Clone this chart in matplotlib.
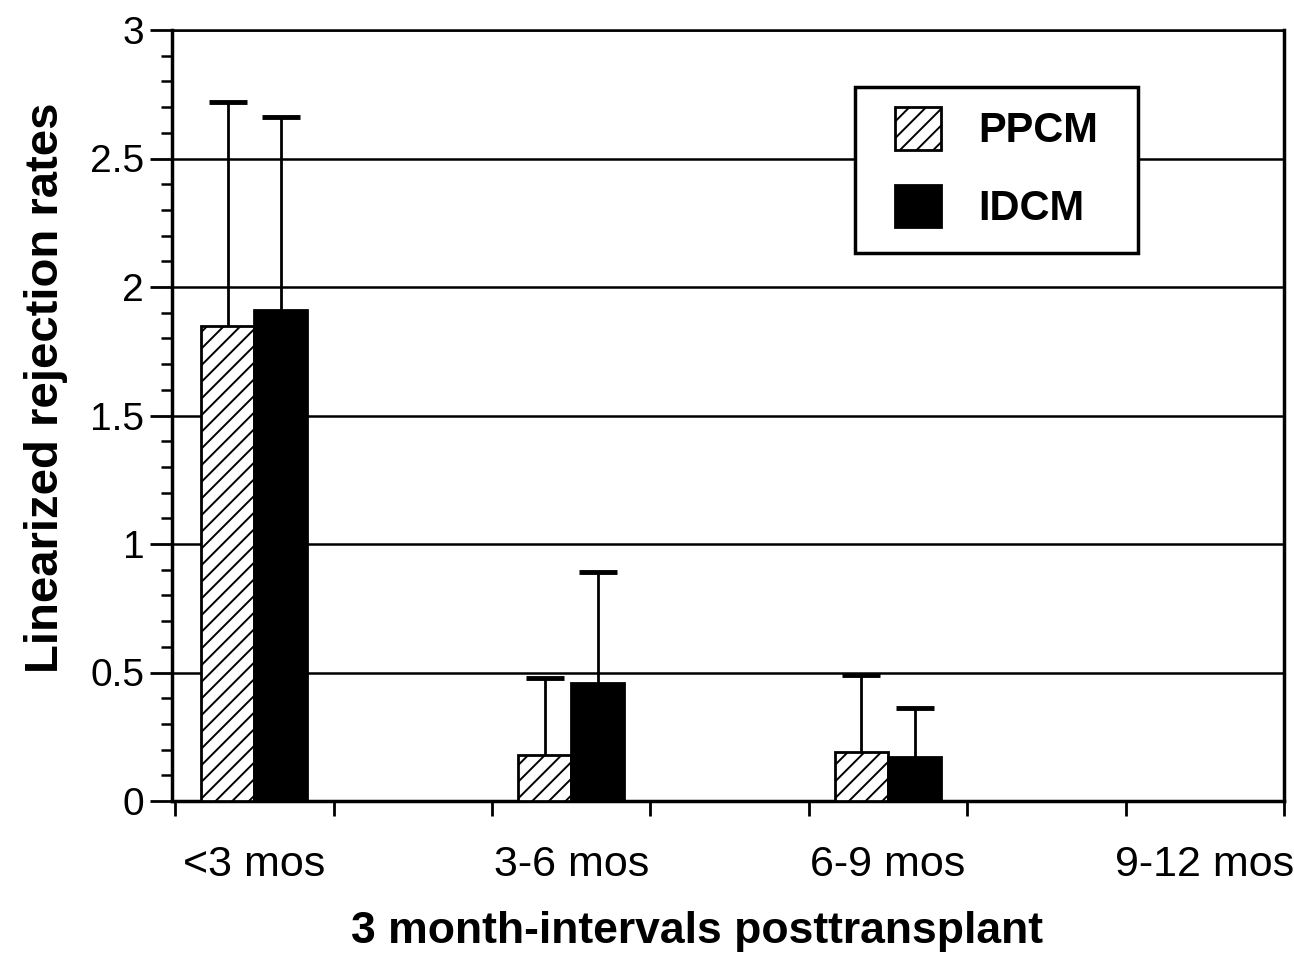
import matplotlib
matplotlib.use("Agg")
import matplotlib.pyplot as plt
from matplotlib.ticker import FixedLocator, NullFormatter
from matplotlib.patches import Rectangle
import numpy as np

plt.rcParams['font.family'] = ['Liberation Sans', 'DejaVu Sans']
plt.rcParams['hatch.linewidth'] = 1.4

categories = ["<3 mos", "3-6 mos", "6-9 mos", "9-12 mos"]
ppcm = [1.85, 0.18, 0.19, 0.0]
ppcm_err = [0.87, 0.30, 0.30, 0.0]
idcm = [1.91, 0.46, 0.17, 0.0]
idcm_err = [0.75, 0.43, 0.19, 0.0]
ytick_vals = [0, 0.5, 1, 1.5, 2, 2.5, 3]
ytick_labels = ['0', '0.5', '1', '1.5', '2', '2.5', '3']

W, H = 1294, 957
fig = plt.figure(figsize=(W / 100, H / 100), dpi=100)
ax = fig.add_axes([172 / W, 1 - 801 / H, (1284 - 172) / W, (801 - 30) / H])

centers = np.array([0.5, 2.5, 4.5, 6.5])
w = 0.335

ax.set_ylim(0, 3)
ax.set_xlim(-0.02, 7)

# horizontal grid lines at every major tick
for yv in ytick_vals[1:]:
    ax.axhline(yv, color='black', lw=1.8, zorder=1)

show = np.array(ppcm) > 0
x_p = (centers - w / 2)[show]
x_i = (centers + w / 2)[show]
p_val = np.array(ppcm)[show]
i_val = np.array(idcm)[show]
p_err = np.array(ppcm_err)[show]
i_err = np.array(idcm_err)[show]

ax.bar(x_p, p_val, width=w, color='white', edgecolor='black',
       hatch='//', linewidth=2, zorder=3, label='PPCM')
ax.bar(x_i, i_val, width=w, color='black', edgecolor='black',
       linewidth=2, zorder=3, label='IDCM')

# upper-only error bars with caps
for xs, vals, errs in [(x_p, p_val, p_err), (x_i, i_val, i_err)]:
    ax.vlines(xs, vals, vals + errs, color='black', lw=2, zorder=4)
    ax.plot(xs, vals + errs, ls='none', marker='_', ms=27, mew=3.5,
            color='black', zorder=4)

# axes frame
for side in ['left', 'bottom', 'right']:
    ax.spines[side].set_linewidth(2.5)
ax.spines['top'].set_linewidth(1.8)

ax.yaxis.set_major_locator(FixedLocator(ytick_vals))
ax.set_yticklabels(ytick_labels)
ax.yaxis.set_minor_locator(FixedLocator(np.arange(0, 3.001, 0.1)))
ax.tick_params(axis='y', which='major', length=16, width=2, labelsize=28, pad=4)
ax.tick_params(axis='y', which='minor', length=8, width=1.8)

ax.xaxis.set_major_locator(FixedLocator(np.arange(0, 8)))
ax.xaxis.set_major_formatter(NullFormatter())
ax.xaxis.set_minor_locator(FixedLocator(centers))
ax.set_xticklabels(categories, minor=True)
ax.tick_params(axis='x', which='major', length=11, width=2)
ax.tick_params(axis='x', which='minor', length=0, labelsize=31, pad=32)

ax.set_xlabel("3 month-intervals posttransplant", fontsize=32, fontweight='bold')
ax.xaxis.label.set_verticalalignment('center')
ax.xaxis.set_label_coords((697 - 172) / 1112, -(932 - 801) / 771)
ax.set_ylabel("Linearized rejection rates", fontsize=34, fontweight='bold')
ax.yaxis.label.set_verticalalignment('center')
ax.yaxis.set_label_coords((46 - 172) / 1112, (801 - 388) / 771)

# legend box
def fig_xy(px, py):
    return px / W, 1 - py / H

x0, y0 = fig_xy(855, 253)
x1, y1 = fig_xy(1138, 87)
fig.patches.append(Rectangle((x0, y0), x1 - x0, y1 - y0, transform=fig.transFigure,
                             facecolor='white', edgecolor='black', lw=2.5, zorder=5))
leg = fig.legend(loc='upper left', bbox_to_anchor=fig_xy(895, 107),
                 prop={'weight': 'bold', 'size': 30}, frameon=False,
                 handlelength=1.1, handleheight=1.2, handletextpad=0.9,
                 borderpad=0, labelspacing=0.8, borderaxespad=0)
leg.set_zorder(6)

fig.savefig("out.png", dpi=100, facecolor='white')
